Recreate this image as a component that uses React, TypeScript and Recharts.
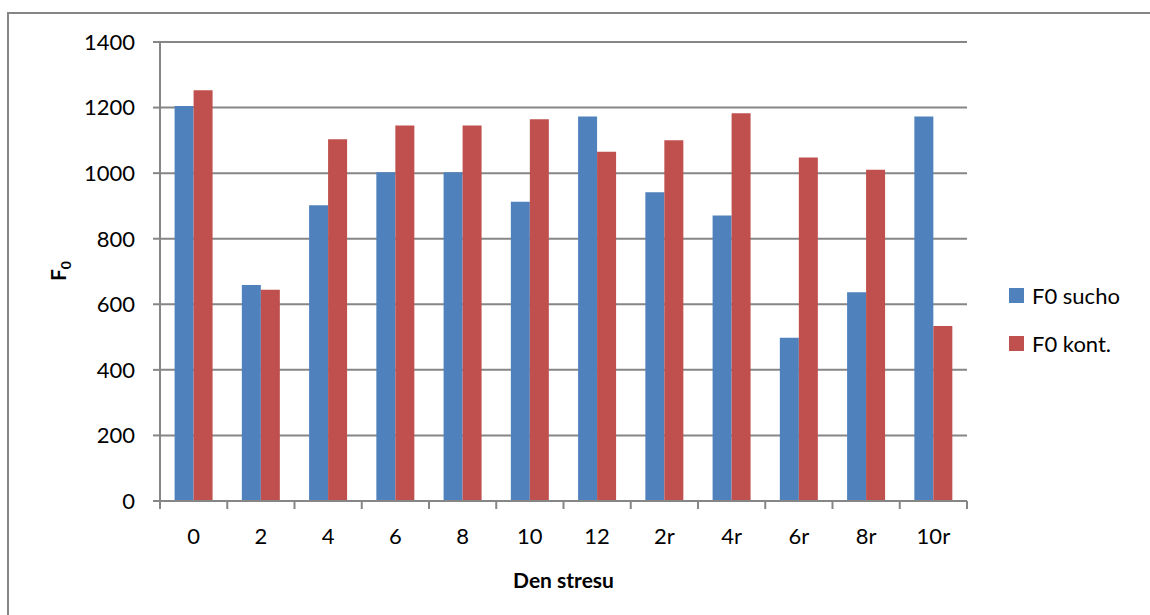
import React from "react";
import { BarChart, Bar, XAxis, YAxis, CartesianGrid } from "recharts";

// stress days (r = recovery)
const days = ["0", "2", "4", "6", "8", "10", "12", "2r", "4r", "6r", "8r", "10r"];
const f0Drought = [1205, 659, 902, 1003, 1003, 913, 1173, 942, 871, 498, 637, 1173];
const f0Control = [1253, 644, 1103, 1145, 1145, 1164, 1065, 1100, 1183, 1048, 1010, 534];
const yTicks = [0, 200, 400, 600, 800, 1000, 1200, 1400];

const data = days.map((day, i) => ({
  day,
  sucho: f0Drought[i],
  kont: f0Control[i],
}));

const FONT = "Lato, Calibri, sans-serif";
const GRID = "#868686";
const BLUE = "#4F81BD";
const RED = "#C0504D";

const series = [
  { key: "sucho", name: "F0 sucho", color: BLUE },
  { key: "kont", name: "F0 kont.", color: RED },
];

// day label plus tick marks on the band edges (Excel style)
const DayTick = (props: any) => {
  const { x, y, payload, index, width } = props;
  const half = payload?.offset ?? width / (2 * days.length);
  const last = index === days.length - 1;
  return (
    <g>
      <line x1={x - half} x2={x - half} y1={y} y2={y + 8} stroke={GRID} strokeWidth={2} />
      {last && (
        <line x1={x + half} x2={x + half} y1={y} y2={y + 8} stroke={GRID} strokeWidth={2} />
      )}
      <text
        x={x}
        y={y + 27}
        dy="0.71em"
        textAnchor="middle"
        fill="#000"
        fontFamily={FONT}
        fontSize={22}
      >
        {payload.value}
      </text>
    </g>
  );
};

const YTitle = () => (
  <text
    x={66}
    y={271}
    transform="rotate(-90, 66, 271)"
    textAnchor="middle"
    fontFamily={FONT}
    fontWeight="bold"
    fontSize={21}
    fill="#000"
  >
    F
    <tspan fontSize={14} dy={5}>0</tspan>
  </text>
);

const LegendBox = () => (
  <div
    style={{
      position: "absolute",
      left: 1009,
      top: 271,
      fontFamily: FONT,
      fontSize: 22,
      color: "#000",
    }}
  >
    {series.map((item) => (
      <div
        key={item.key}
        style={{ display: "flex", alignItems: "center", height: 48 }}
      >
        <span
          style={{
            display: "inline-block",
            width: 15,
            height: 15,
            background: item.color,
            marginRight: 8,
          }}
        />
        {item.name}
      </div>
    ))}
  </div>
);

export default function App() {
  return (
    <div
      style={{
        position: "absolute",
        left: 0,
        top: 0,
        width: 1150,
        height: 615,
        background: "#fff",
        overflow: "hidden",
      }}
    >
      <div
        style={{
          position: "absolute",
          left: 7,
          top: 12,
          width: 1150,
          height: 620,
          borderLeft: `2px solid ${GRID}`,
          borderTop: `2px solid ${GRID}`,
        }}
      />
      <BarChart
        width={1150}
        height={615}
        data={data}
        margin={{ top: 42, right: 183, left: 0, bottom: 0 }}
        barCategoryGap="21.7%"
        barGap={0}
      >
        <CartesianGrid horizontal vertical={false} stroke={GRID} strokeWidth={2} />
        <XAxis
          dataKey="day"
          height={114}
          interval={0}
          axisLine={{ stroke: GRID, strokeWidth: 2 }}
          tickLine={false}
          tickSize={0}
          tickMargin={0}
          tick={<DayTick />}
          label={{
            value: "Den stresu",
            position: "insideBottom",
            offset: 27,
            fill: "#000",
            fontFamily: FONT,
            fontWeight: "bold",
            fontSize: 21,
          }}
        />
        <YAxis
          width={160}
          domain={[0, 1400]}
          ticks={yTicks}
          tickSize={7}
          tickMargin={18}
          axisLine={{ stroke: GRID, strokeWidth: 2 }}
          tickLine={{ stroke: GRID, strokeWidth: 2 }}
          tick={{ fill: "#000", fontFamily: FONT, fontSize: 22 }}
          label={<YTitle />}
        />
        {series.map((s) => (
          <Bar
            key={s.key}
            dataKey={s.key}
            name={s.name}
            fill={s.color}
            isAnimationActive={false}
          />
        ))}
      </BarChart>
      <LegendBox />
    </div>
  );
}
